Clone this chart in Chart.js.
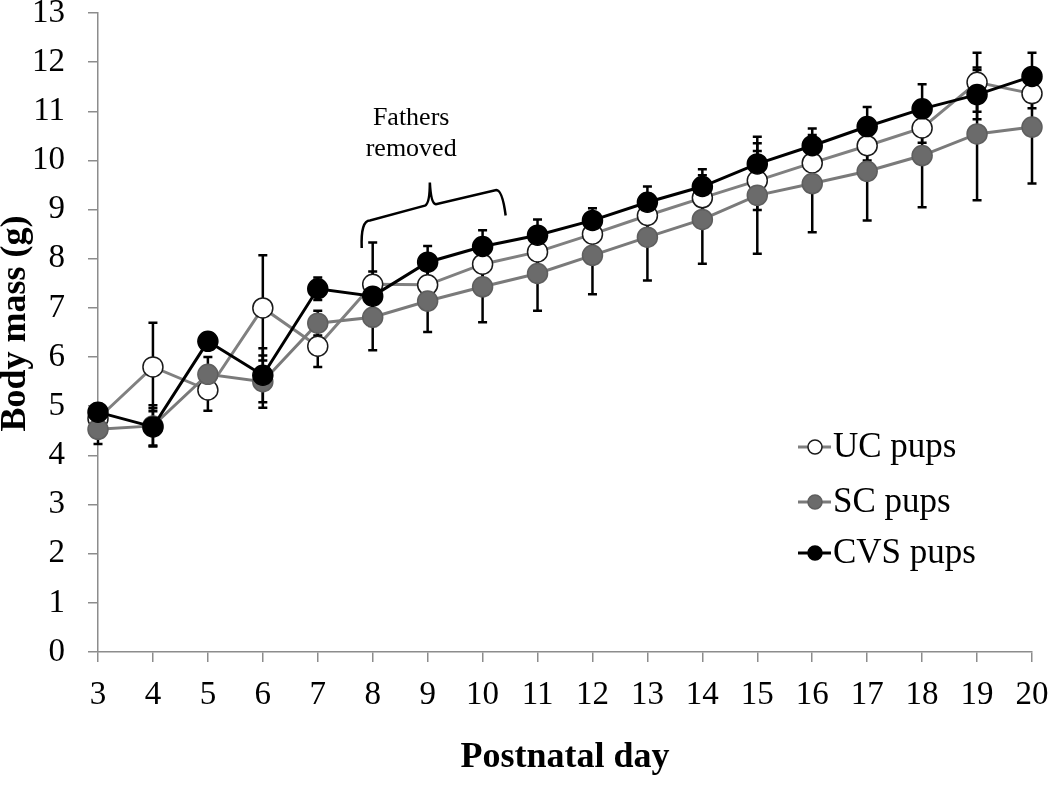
<!DOCTYPE html>
<html>
<head>
<meta charset="utf-8">
<script src="https://cdn.jsdelivr.net/npm/chart.js@4"></script>
<style>
html, body { margin: 0; padding: 0; background: #fff; }
#wrap { width: 1050px; height: 799px; }
</style>
</head>
<body>
<div id="wrap"><canvas id="myChart"></canvas></div>
<script>
var days = ['3', '4', '5', '6', '7', '8', '9', '10', '11', '12', '13', '14', '15', '16', '17', '18', '19', '20'];

// mean body mass (g)
var ucPups = [4.75, 5.8, 5.33, 7.0, 6.22, 7.48, 7.47, 7.89, 8.14, 8.5, 8.88, 9.24, 9.59, 9.95, 10.3, 10.66, 11.59, 11.36];
var scPups = [4.53, 4.6, 5.65, 5.5, 6.69, 6.81, 7.14, 7.43, 7.7, 8.07, 8.44, 8.8, 9.29, 9.53, 9.78, 10.1, 10.54, 10.68];
var cvsPups = [4.88, 4.58, 6.32, 5.63, 7.39, 7.24, 7.93, 8.25, 8.48, 8.78, 9.15, 9.47, 9.93, 10.3, 10.69, 11.05, 11.34, 11.71];

// error bars (SEM)
var ucErr = [0.15, 0.9, 0.42, 1.07, 0.42, 0.85, 0.3, 0.3, 0.3, 0.3, 0.3, 0.3, 0.6, 0.3, 0.3, 0.3, 0.6, 0.3];
var scErr = [0.3, 0.42, 0.35, 0.53, 0.25, 0.67, 0.63, 0.72, 0.76, 0.79, 0.88, 0.9, 1.19, 0.99, 1.0, 1.05, 1.35, 1.15];
var cvsErr = [0.17, 0.38, 0.15, 0.55, 0.23, 0.5, 0.33, 0.33, 0.32, 0.25, 0.32, 0.35, 0.42, 0.35, 0.4, 0.5, 0.5, 0.48];

var yMin = 0;
var yMax = 13;

Chart.defaults.font.family = '"Liberation Serif", "Times New Roman", serif';
Chart.defaults.color = '#000';

// error bars go under the lines and markers
var errorBars = {
    id: 'errorBars',
    beforeDatasetsDraw: function (chart) {
        var ctx = chart.ctx;
        var yScale = chart.scales.y;
        ctx.save();
        ctx.strokeStyle = '#000';
        ctx.lineWidth = 2.5;
        chart.data.datasets.forEach(function (ds, i) {
            var meta = chart.getDatasetMeta(i);
            meta.data.forEach(function (pt, j) {
                var top = yScale.getPixelForValue(ds.data[j] + ds.errors[j]);
                var bot = yScale.getPixelForValue(ds.data[j] - ds.errors[j]);
                ctx.beginPath();
                ctx.moveTo(pt.x, top);
                ctx.lineTo(pt.x, bot);
                ctx.moveTo(pt.x - 4.5, top);
                ctx.lineTo(pt.x + 4.5, top);
                ctx.moveTo(pt.x - 4.5, bot);
                ctx.lineTo(pt.x + 4.5, bot);
                ctx.stroke();
            });
        });
        ctx.restore();
    }
};

// legend inside the plot, lower right
var insideLegend = {
    id: 'insideLegend',
    afterDraw: function (chart) {
        var ctx = chart.ctx;
        var x0 = 798, rowY = [447, 502, 553];
        ctx.save();
        ctx.font = '35px "Liberation Serif", serif';
        ctx.textBaseline = 'middle';
        ctx.textAlign = 'left';
        chart.data.datasets.forEach(function (ds, i) {
            var y = rowY[i];
            ctx.strokeStyle = ds.borderColor;
            ctx.lineWidth = 3;
            ctx.beginPath();
            ctx.moveTo(x0, y);
            ctx.lineTo(x0 + 33, y);
            ctx.stroke();
            ctx.beginPath();
            ctx.arc(x0 + 17, y, 7, 0, Math.PI * 2);
            ctx.fillStyle = ds.pointBackgroundColor;
            ctx.fill();
            ctx.lineWidth = 1.5;
            ctx.strokeStyle = ds.pointBorderColor;
            ctx.stroke();
            ctx.fillStyle = '#000';
            ctx.fillText(ds.label, x0 + 35, y + 1);
        });
        ctx.restore();
    }
};

// "Fathers removed" note with its brace
var fathersNote = {
    id: 'fathersNote',
    afterDraw: function (chart) {
        var ctx = chart.ctx;
        var xs = chart.scales.x, ys = chart.scales.y;
        function px(day) { return xs.getPixelForValue(day - 3); }
        function py(v) { return ys.getPixelForValue(v); }
        ctx.save();
        ctx.fillStyle = '#000';
        ctx.font = '26px "Liberation Serif", serif';
        ctx.textAlign = 'center';
        ctx.textBaseline = 'middle';
        ctx.fillText('Fathers', px(8.7), py(10.86));
        ctx.fillText('removed', px(8.7), py(10.22));

        ctx.strokeStyle = '#000';
        ctx.lineWidth = 2.5;
        ctx.beginPath();
        ctx.moveTo(px(7.8), py(8.22));
        ctx.quadraticCurveTo(px(7.78), py(8.78), px(7.95), py(8.78));
        ctx.lineTo(px(8.95), py(9.08));
        ctx.quadraticCurveTo(px(9.04), py(9.12), px(9.04), py(9.55));
        ctx.quadraticCurveTo(px(9.06), py(9.12), px(9.15), py(9.11));
        ctx.lineTo(px(10.25), py(9.4));
        ctx.quadraticCurveTo(px(10.36), py(9.4), px(10.42), py(8.88));
        ctx.stroke();
        ctx.restore();
    }
};

var axisGrey = '#8c8c8c';

var chart = new Chart(document.getElementById('myChart').getContext('2d'), {
    type: 'line',
    data: {
        labels: days,
        datasets: [{
            label: 'UC pups',
            data: ucPups,
            errors: ucErr,
            borderColor: '#808080',
            borderWidth: 3,
            pointBackgroundColor: '#ffffff',
            pointBorderColor: '#1a1a1a',
            pointBorderWidth: 1.5,
            pointRadius: 10,
            order: 2
        }, {
            label: 'SC pups',
            data: scPups,
            errors: scErr,
            borderColor: '#7a7a7a',
            borderWidth: 3,
            pointBackgroundColor: '#6b6b6b',
            pointBorderColor: '#5e5e5e',
            pointBorderWidth: 1.5,
            pointRadius: 10,
            order: 1
        }, {
            label: 'CVS pups',
            data: cvsPups,
            errors: cvsErr,
            borderColor: '#000000',
            borderWidth: 3,
            pointBackgroundColor: '#000000',
            pointBorderColor: '#000000',
            pointBorderWidth: 1.5,
            pointRadius: 10,
            order: 0
        }]
    },
    options: {
        responsive: true,
        maintainAspectRatio: false,
        animation: false,
        clip: false,
        elements: { line: { tension: 0 } },
        layout: { padding: { top: 13, right: 18, left: 0, bottom: 0 } },
        plugins: {
            legend: { display: false },
            tooltip: { enabled: false }
        },
        scales: {
            x: {
                type: 'category',
                offset: false,
                grid: { drawOnChartArea: false, tickLength: 10, color: axisGrey, lineWidth: 1.5 },
                border: { color: axisGrey, width: 1.5 },
                ticks: { font: { size: 33 }, padding: 14, maxRotation: 0, autoSkip: false },
                title: {
                    display: true,
                    text: 'Postnatal day',
                    font: { size: 36, weight: 'bold' },
                    padding: { top: 0, bottom: 20 }
                },
                afterFit: function (scale) {
                    scale.height = 147;
                    scale.paddingLeft = 0;
                    scale.paddingRight = 0;
                }
            },
            y: {
                min: yMin,
                max: yMax,
                grid: { drawOnChartArea: false, tickLength: 10, color: axisGrey, lineWidth: 1.5 },
                border: { color: axisGrey, width: 1.5 },
                ticks: { stepSize: 1, font: { size: 33 }, padding: 23 },
                title: {
                    display: true,
                    text: '  Body mass (g)',
                    font: { size: 36, weight: 'bold', lineHeight: 0.85 },
                    padding: 0
                },
                afterFit: function (scale) {
                    scale.width = 98;
                    scale.paddingTop = 0;
                    scale.paddingBottom = 0;
                }
            }
        }
    },
    plugins: [errorBars, insideLegend, fathersNote]
});
</script>
</body>
</html>
